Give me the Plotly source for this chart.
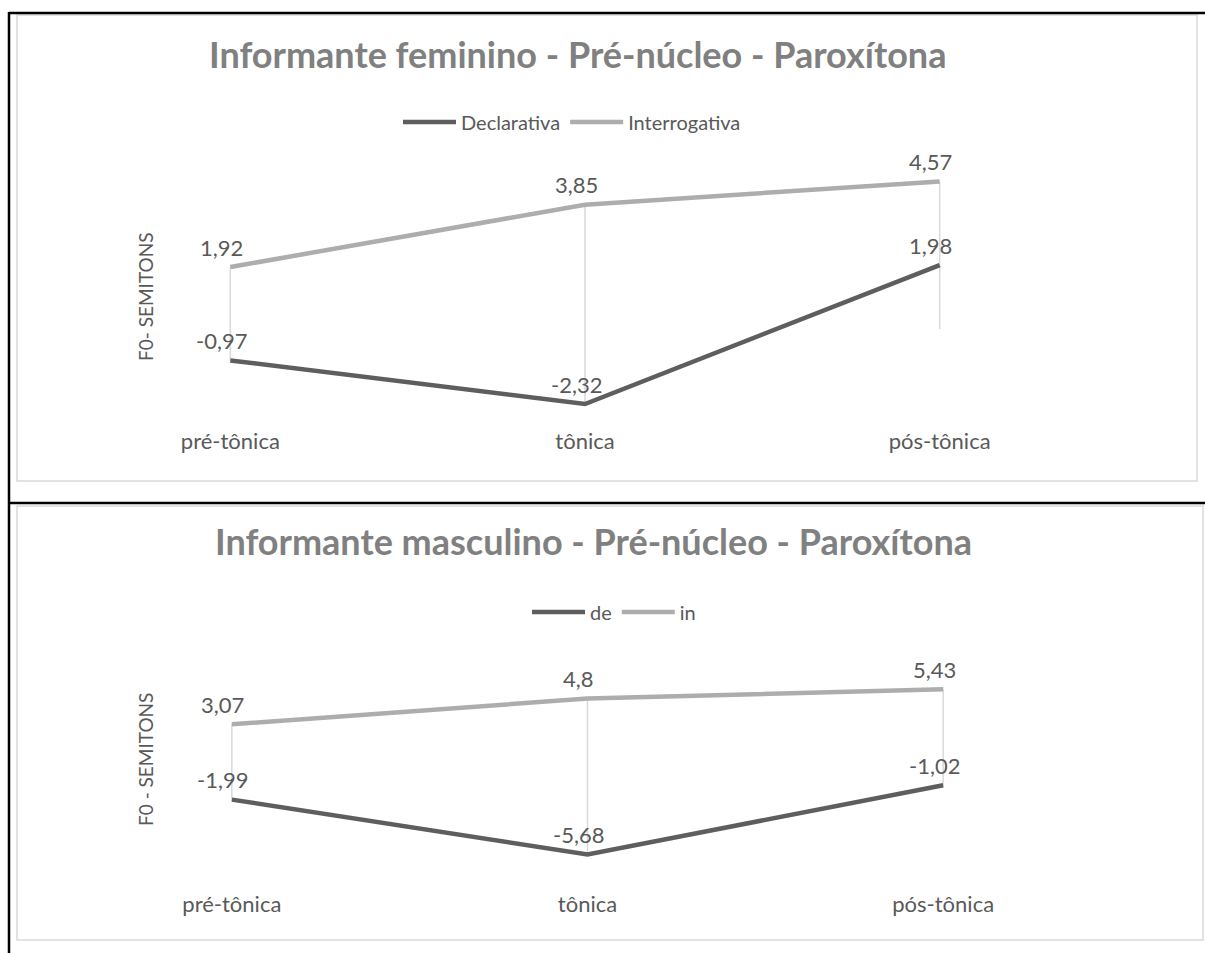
import plotly.graph_objects as go

# Categories (syllable position) shared by both panels
categorias = ["pré-tônica", "tônica", "pós-tônica"]

# Female speaker, pre-nucleus, paroxytone (F0 in semitones)
fem_declarativa = [-0.97, -2.32, 1.98]
fem_interrogativa = [1.92, 3.85, 4.57]

# Male speaker, pre-nucleus, paroxytone (F0 in semitones)
masc_de = [-1.99, -5.68, -1.02]
masc_in = [3.07, 4.80, 5.43]

W, H = 1205, 953
FONT = "Lato"
DARK = "#5e5e5e"
LIGHT = "#adadad"
TXT = "#595959"
TITLE = "#808080"


def px(x):
    return x / W


def py(y):
    return 1 - y / H


def fmt(v):
    s = f"{v:.2f}".rstrip("0").rstrip(".")
    return s.replace(".", ",")


fig = go.Figure()


def add_panel(series, names, xa, ya, legend):
    # drop lines from every point to the zero line
    dx, dy = [], []
    for i, cat in enumerate(categorias):
        vals = [s[i] for s in series] + [0]
        dx += [cat, cat, None]
        dy += [max(vals), min(vals), None]
    fig.add_trace(go.Scatter(x=dx, y=dy, mode="lines", xaxis=xa, yaxis=ya,
                             line=dict(color="#d9d9d9", width=1.5),
                             showlegend=False, hoverinfo="skip"))
    for vals, name, col in zip(series, names, [DARK, LIGHT]):
        fig.add_trace(go.Scatter(x=categorias, y=vals, mode="lines", name=name,
                                 xaxis=xa, yaxis=ya, legend=legend,
                                 line=dict(color=col, width=4.5)))
        for cat, v in zip(categorias, vals):
            fig.add_annotation(x=cat, y=v, xref=xa, yref=ya, text=fmt(v),
                               showarrow=False, yshift=20, xshift=-9,
                               xanchor="center", yanchor="middle",
                               font=dict(family=FONT, size=22, color=TXT))


add_panel([fem_declarativa, fem_interrogativa], ["Declarativa", "Interrogativa"],
          "x", "y", "legend")
add_panel([masc_de, masc_in], ["de", "in"], "x2", "y2", "legend2")

xcommon = dict(type="category", range=[-0.5, 2.5], showgrid=False, zeroline=False,
               showline=False, ticks="", tickfont=dict(family=FONT, size=22, color=TXT))

legend_style = dict(orientation="h", xanchor="center", yanchor="middle", itemwidth=53,
                    font=dict(family=FONT, size=20, color=TXT), bgcolor="rgba(0,0,0,0)")

fig.update_layout(
    width=W, height=H,
    margin=dict(l=0, r=0, t=0, b=0),
    paper_bgcolor="white", plot_bgcolor="white",
    font=dict(family=FONT, color=TXT),
    xaxis=dict(domain=[px(53), px(1117)], anchor="y", **xcommon),
    yaxis=dict(domain=[py(426), py(167.5)], range=[-3, 5], visible=False, anchor="x"),
    xaxis2=dict(domain=[px(54), px(1121)], anchor="y2", **xcommon),
    yaxis2=dict(domain=[py(889), py(651)], range=[-8, 8], visible=False, anchor="x2"),
    legend=dict(x=px(572), y=py(122), **legend_style),
    legend2=dict(x=px(614), y=py(612), **legend_style),
    showlegend=True,
)

# Chart titles and vertical axis titles
for text, xc, yc in [("Informante feminino - Pré-núcleo - Paroxítona", 577, 54),
                     ("Informante masculino - Pré-núcleo - Paroxítona", 593, 541)]:
    fig.add_annotation(x=px(xc), y=py(yc), xref="paper", yref="paper", text=f"<b>{text}</b>",
                       xanchor="center", yanchor="middle", showarrow=False,
                       font=dict(family=FONT, size=36, color=TITLE))

for text, yc in [("F0- SEMITONS", 297), ("F0 - SEMITONS", 760)]:
    fig.add_annotation(x=px(145), y=py(yc), xref="paper", yref="paper", text=text,
                       textangle=-90, showarrow=False, xanchor="center", yanchor="middle",
                       font=dict(family=FONT, size=19, color=TXT))

# Light chart-area frames
for x0, y0, x1, y1 in [(17, 15, 1197, 481), (17, 506, 1203, 940)]:
    fig.add_shape(type="rect", xref="paper", yref="paper",
                  x0=px(x0), y0=py(y0), x1=px(x1), y1=py(y1),
                  line=dict(color="#d9d9d9", width=1.5), fillcolor="rgba(0,0,0,0)")

# Black table rules around the two charts
for x0, y0, x1, y1 in [(9, 13, 1205, 13), (9, 503, 1205, 503), (9, 12, 9, 953)]:
    fig.add_shape(type="line", xref="paper", yref="paper",
                  x0=px(x0), y0=py(y0), x1=px(x1), y1=py(y1),
                  line=dict(color="black", width=2.5))

fig.write_html("out.html")
